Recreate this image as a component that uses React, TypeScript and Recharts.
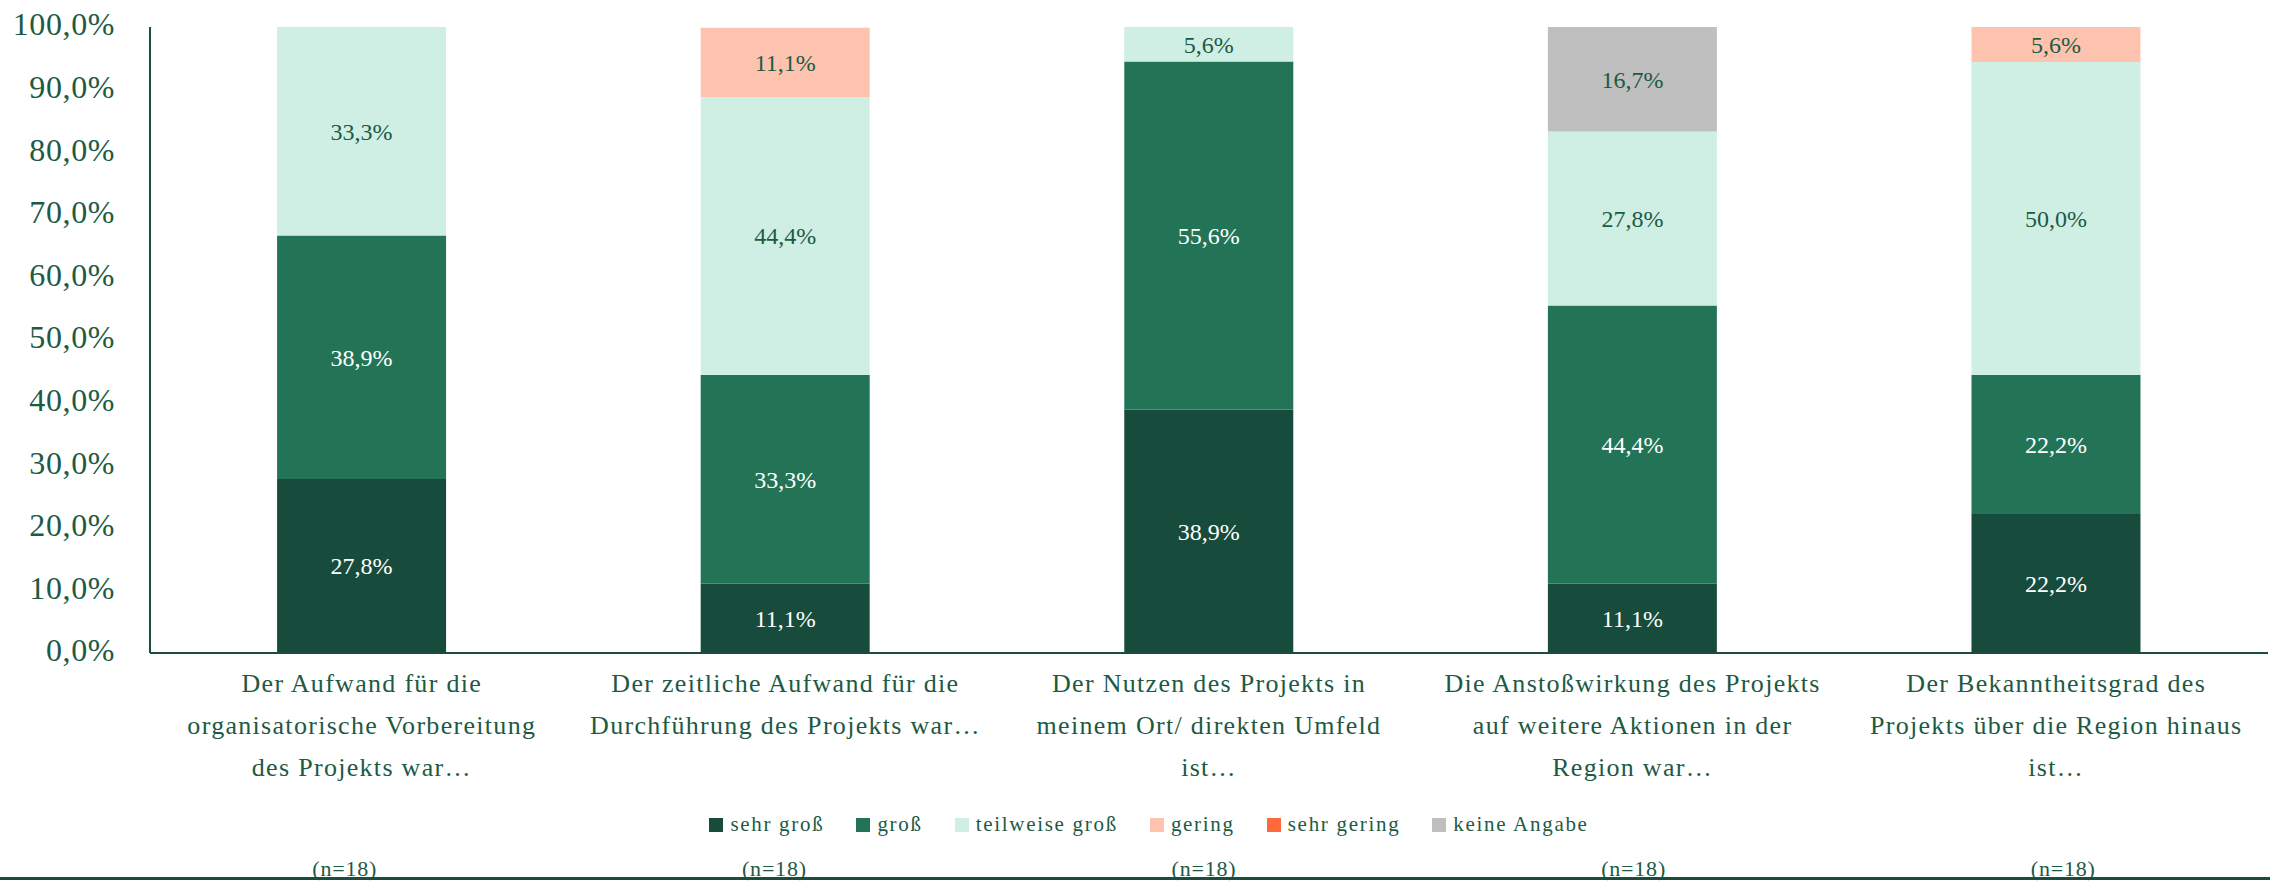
import React from 'react';
import { BarChart, Bar, XAxis, YAxis, Legend, LabelList } from 'recharts';

const categories = [
  ['Der Aufwand für die', 'organisatorische Vorbereitung', 'des Projekts war…'],
  ['Der zeitliche Aufwand für die', 'Durchführung des Projekts war…'],
  ['Der Nutzen des Projekts in', 'meinem Ort/ direkten Umfeld', 'ist…'],
  ['Die Anstoßwirkung des Projekts', 'auf weitere Aktionen in der', 'Region war…'],
  ['Der Bekanntheitsgrad des', 'Projekts über die Region hinaus', 'ist…'],
];
const sampleSizes = [18, 18, 18, 18, 18];

const sehrGross = [27.8, 11.1, 38.9, 11.1, 22.2];
const gross = [38.9, 33.3, 55.6, 44.4, 22.2];
const teilweiseGross = [33.3, 44.4, 5.6, 27.8, 50.0];
const gering = [0, 11.1, 0, 0, 5.6];
const sehrGering = [0, 0, 0, 0, 0];
const keineAngabe = [0, 0, 0, 16.7, 0];

const yTicks = [0, 10, 20, 30, 40, 50, 60, 70, 80, 90, 100];

const TEXT = '#1d5a44';
const AXIS = '#1b4d3d';
const FONT = '"Liberation Serif", "Times New Roman", serif';

const series = [
  { key: 'sehrGross', name: 'sehr groß', values: sehrGross, color: '#174b3b', label: '#ffffff' },
  { key: 'gross', name: 'groß', values: gross, color: '#237457', label: '#ffffff' },
  { key: 'teilweiseGross', name: 'teilweise groß', values: teilweiseGross, color: '#cfefe4', label: TEXT },
  { key: 'gering', name: 'gering', values: gering, color: '#fec3ae', label: TEXT },
  { key: 'sehrGering', name: 'sehr gering', values: sehrGering, color: '#ff6a3c', label: TEXT },
  { key: 'keineAngabe', name: 'keine Angabe', values: keineAngabe, color: '#bfbfbf', label: TEXT },
];

const data = categories.map((lines, i) => {
  const row: any = { name: lines.join(' '), idx: i, n: sampleSizes[i] };
  series.forEach((s) => {
    row[s.key] = s.values[i];
  });
  return row;
});

const pct = (v: number) => v.toFixed(1).replace('.', ',') + '%';

const CategoryTick = (props: any) => {
  const { x, y, payload } = props;
  const i = payload.index;
  const lines = categories[i];
  return (
    <g transform={`translate(${x},${y})`}>
      <text textAnchor="middle" fill={TEXT} fontSize={26} fontFamily={FONT} letterSpacing={1.3}>
        {lines.map((l, k) => (
          <tspan key={k} x={0} y={39 + k * 42}>
            {l}
          </tspan>
        ))}
      </text>
      {/* the (n=..) notes sit on a slightly wider grid than the categories */}
      <text x={-17 + 6 * i} y={223} textAnchor="middle" fill={TEXT} fontSize={22} fontFamily={FONT} letterSpacing={0.8}>
        {`(n=${sampleSizes[i]})`}
      </text>
    </g>
  );
};

const LegendContent = () => (
  <div
    style={{
      display: 'flex',
      justifyContent: 'center',
      alignItems: 'center',
      fontFamily: FONT,
      fontSize: 21,
      letterSpacing: 1.7,
      color: TEXT,
      paddingLeft: 62,
    }}
  >
    {series.map((s) => (
      <div key={s.key} style={{ display: 'flex', alignItems: 'center', marginRight: 32 }}>
        <span style={{ display: 'inline-block', width: 14, height: 14, background: s.color, marginRight: 7 }} />
        <span>{s.name}</span>
      </div>
    ))}
  </div>
);

const makeLabel = (color: string) => (props: any) => {
  const { x, y, width, height, value } = props;
  if (!value) return null;
  return (
    <text
      x={x + width / 2}
      y={y + height / 2}
      dy="0.35em"
      textAnchor="middle"
      fill={color}
      fontSize={24}
      fontFamily={FONT}
    >
      {pct(value)}
    </text>
  );
};

const YTick = (props: any) => {
  const { x, y, payload } = props;
  return (
    <text x={x} y={y - 3} dy="0.355em" textAnchor="end" fill={TEXT} fontSize={32} fontFamily={FONT} letterSpacing={0.6}>
      {pct(payload.value)}
    </text>
  );
};

export default function App() {
  return (
    <div style={{ position: 'absolute', left: 0, top: 0, width: 2270, height: 882, background: '#fff' }}>
      <BarChart
        width={2270}
        height={882}
        data={data}
        margin={{ top: 27, right: 2, bottom: 0, left: 0 }}
        barCategoryGap="30%"
      >
        <XAxis
          dataKey="name"
          axisLine={{ stroke: AXIS, strokeWidth: 2 }}
          tickLine={false}
          tickSize={0}
          tickMargin={0}
          height={199}
          interval={0}
          tick={<CategoryTick />}
        />
        <YAxis
          domain={[0, 100]}
          ticks={yTicks}
          allowDataOverflow
          width={150}
          axisLine={{ stroke: AXIS, strokeWidth: 2 }}
          tickLine={false}
          tickSize={0}
          tickMargin={35}
          tick={<YTick />}
        />
        <Legend verticalAlign="bottom" height={30} content={<LegendContent />} wrapperStyle={{ bottom: 40 }} />
        {series.map((s) => (
          <Bar key={s.key} dataKey={s.key} name={s.name} stackId="a" fill={s.color} isAnimationActive={false}>
            <LabelList dataKey={s.key} content={makeLabel(s.label)} />
          </Bar>
        ))}
      </BarChart>
      <div style={{ position: 'absolute', left: 0, top: 877, width: 2270, height: 3, background: AXIS }} />
    </div>
  );
}
